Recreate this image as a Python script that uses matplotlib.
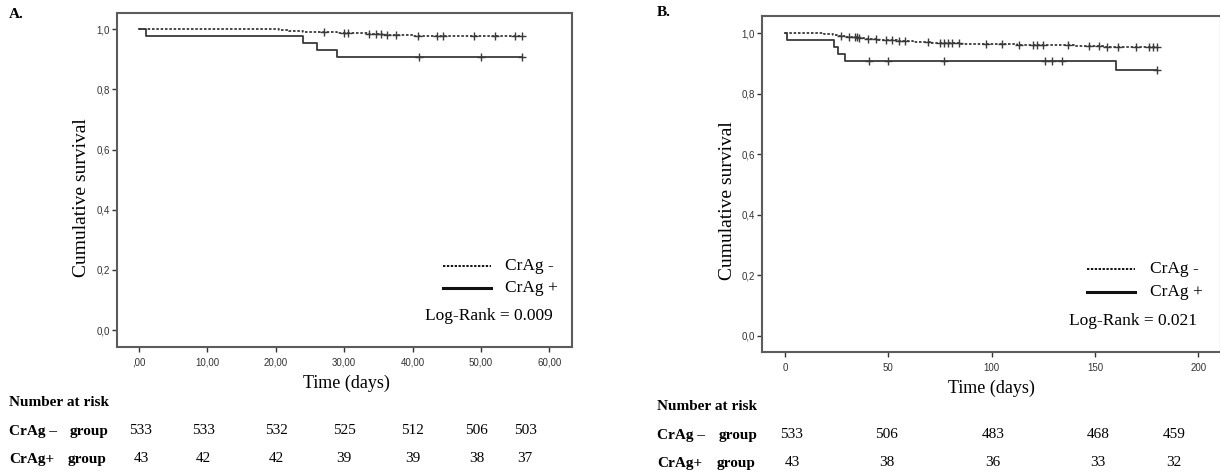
import numpy as np
import matplotlib
matplotlib.use("Agg")
import matplotlib.pyplot as plt

# ---------------- data ----------------
# Panel A (56 days)
a_neg_event_t = [20.5, 22, 24, 26.5, 29, 31, 33.5, 35.5, 37, 40]
a_neg_event_s = [0.998, 0.994, 0.992, 0.990, 0.988, 0.986, 0.984, 0.982, 0.980, 0.978]
a_neg_end = 56
a_neg_censor = [27, 30, 30.5, 33.7, 34.6, 35.4, 36.2, 37.6, 40.8, 43.5, 44.5, 49, 52, 55, 56]

a_pos_event_t = [1, 24, 26, 29]
a_pos_event_s = [0.977, 0.953, 0.930, 0.907]
a_pos_end = 56
a_pos_censor = [41, 50, 56]

a_xticks = [0, 10, 20, 30, 40, 50, 60]
a_xticklabels = [",00", "10,00", "20,00", "30,00", "40,00", "50,00", "60,00"]
a_risk_t = [0, 10, 20, 30, 40, 50, 56]
a_risk_neg = [533, 533, 532, 525, 512, 506, 503]
a_risk_pos = [43, 42, 42, 39, 39, 38, 37]
a_logrank = "Log-Rank = 0.009"

# Panel B (180 days)
b_neg_event_t = [19, 21, 23, 25, 27, 30, 33, 36, 39, 45, 55, 62, 70, 85, 100, 112, 125, 140, 155, 168]
b_neg_event_s = [0.998, 0.996, 0.994, 0.992, 0.990, 0.988, 0.986, 0.983, 0.980, 0.978, 0.976, 0.972,
                 0.968, 0.966, 0.964, 0.962, 0.960, 0.958, 0.956, 0.954]
b_neg_end = 180
b_neg_censor = [27, 31, 34, 35, 36, 40, 44, 49, 52, 55, 58, 69, 75, 77, 79, 81, 84, 97, 105, 113,
                120, 122, 125, 137, 147, 152, 156, 161, 170, 176, 178, 180]

b_pos_event_t = [1, 23.7, 25.6, 29, 160]
b_pos_event_s = [0.977, 0.953, 0.930, 0.907, 0.880]
b_pos_end = 180
b_pos_censor = [40.6, 49.8, 77, 126, 129, 134, 180]

b_xticks = [0, 50, 100, 150, 200]
b_xticklabels = ["0", "50", "100", "150", "200"]
b_risk_t = [0, 50, 100, 150, 180]
b_risk_neg = [533, 506, 483, 468, 459]
b_risk_pos = [43, 38, 36, 33, 32]
b_logrank = "Log-Rank = 0.021"

yticks = [0.0, 0.2, 0.4, 0.6, 0.8, 1.0]
yticklabels = ["0,0", "0,2", "0,4", "0,6", "0,8", "1,0"]

# ---------------- layout ----------------
W, H = 1220, 475
SERIF = ["Liberation Serif", "DejaVu Serif"]
SANS = ["Liberation Sans", "DejaVu Sans"]
CURVE = "#3a3a3a"
SPINE = "#5c5c5c"

fig = plt.figure(figsize=(W / 100, H / 100), dpi=100)


def fx(x):
    return x / W


def fy(y):
    return 1 - y / H


def add_axes_px(l, t, r, b):
    return fig.add_axes([fx(l), fy(b), (r - l) / W, (b - t) / H])


def km_curve(ax, ev_t, ev_s, end, censor, ls):
    t = [0] + list(ev_t) + [end]
    s = [1.0] + list(ev_s) + [ev_s[-1]]
    ax.step(t, s, where="post", color=CURVE, lw=1.3, linestyle=ls, zorder=3)
    ev = np.array(ev_t)
    sv = np.array([1.0] + list(ev_s))
    c = np.array(censor)
    idx = np.searchsorted(ev, c, side="right")
    ax.plot(c, sv[idx], linestyle="none", marker="+", ms=5.5, mew=1.0, color=CURVE, zorder=4)


def panel(box, xlim, ylim, xticks, xticklabels, curves, risk_t, risk_neg, risk_pos,
          logrank, letter_xy, ylab_xy, xlab_xy, legend, risk_rows, label_x, group_x, col_nudge):
    ax = add_axes_px(*box)
    for ev_t, ev_s, end, cen, ls in curves:
        km_curve(ax, ev_t, ev_s, end, cen, ls)
    ax.set_xlim(*xlim)
    ax.set_ylim(*ylim)
    ax.set_xticks(xticks)
    ax.set_xticklabels(xticklabels)
    ax.set_yticks(yticks)
    ax.set_yticklabels(yticklabels)
    for lab in ax.get_xticklabels() + ax.get_yticklabels():
        lab.set_fontfamily(SANS)
    ax.tick_params(axis="both", labelsize=7, colors="#333333", length=3.6, width=1.0,
                   direction="out", pad=1.5)
    ax.tick_params(axis="x", pad=4)
    for sp in ax.spines.values():
        sp.set_color(SPINE)
        sp.set_linewidth(1.5)

    # panel letter
    fig.text(fx(letter_xy[0]), fy(letter_xy[1]), letter_xy[2], fontsize=11, fontweight="bold",
             family=SERIF, ha="left", va="center")
    # axis labels
    fig.text(fx(ylab_xy[0]), fy(ylab_xy[1]), "Cumulative survival", rotation=90, fontsize=14,
             family=SERIF, ha="center", va="center")
    fig.text(fx(xlab_xy[0]), fy(xlab_xy[1]), "Time (days)", fontsize=13, family=SERIF,
             ha="center", va="center")

    # legend
    lx0, lx1, ty, y1, y2, y3, lr_right = legend
    fig.add_artist(plt.Line2D([fx(lx0), fx(lx1)], [fy(y1), fy(y1)], color="#111111", lw=1.4,
                              linestyle=(0, (1.2, 0.8))))
    fig.add_artist(plt.Line2D([fx(lx0), fx(lx1)], [fy(y2), fy(y2)], color="#111111", lw=2.2))
    fig.text(fx(ty), fy(y1), "CrAg -", fontsize=12.5, family=SERIF, ha="left", va="center")
    fig.text(fx(ty), fy(y2), "CrAg +", fontsize=12.5, family=SERIF, ha="left", va="center")
    fig.text(fx(lr_right), fy(y3), logrank, fontsize=12.5, family=SERIF, ha="right", va="center")

    # number at risk table
    y_head, y_r1, y_r2 = risk_rows
    fig.text(fx(label_x), fy(y_head), "Number at risk", fontsize=11, fontweight="bold",
             family=SERIF, ha="left", va="center")
    fig.text(fx(label_x), fy(y_r1), "CrAg \u2013", fontsize=11, fontweight="bold",
             family=SERIF, ha="left", va="center")
    fig.text(fx(group_x), fy(y_r1), "group", fontsize=11, fontweight="bold",
             family=SERIF, ha="left", va="center")
    fig.text(fx(label_x), fy(y_r2), "CrAg+", fontsize=11, fontweight="bold",
             family=SERIF, ha="left", va="center")
    fig.text(fx(group_x - 2), fy(y_r2), "group", fontsize=11, fontweight="bold",
             family=SERIF, ha="left", va="center")
    for t, n1, n2, dx in zip(risk_t, risk_neg, risk_pos, col_nudge):
        xd = ax.transData.transform((t, 0))[0] + dx
        xf = fig.transFigure.inverted().transform((xd, 0))[0]
        fig.text(xf, fy(y_r1), str(n1), fontsize=11, family=SERIF, ha="center", va="center")
        fig.text(xf, fy(y_r2), str(n2), fontsize=11, family=SERIF, ha="center", va="center")
    return ax


panel(box=(117, 12.7, 572, 347), xlim=(-3.2, 63.3), ylim=(-0.0565, 1.055),
      xticks=a_xticks, xticklabels=a_xticklabels,
      curves=[(a_neg_event_t, a_neg_event_s, a_neg_end, a_neg_censor, (0, (1.4, 1.0))),
              (a_pos_event_t, a_pos_event_s, a_pos_end, a_pos_censor, "-")],
      risk_t=a_risk_t, risk_neg=a_risk_neg, risk_pos=a_risk_pos, logrank=a_logrank,
      letter_xy=(9, 15, "A."), ylab_xy=(82, 198), xlab_xy=(346, 383),
      legend=(443, 491, 505, 266, 288, 316, 553),
      risk_rows=(402, 431, 459), label_x=9, group_x=70, col_nudge=[2, -4, 1, 0, 0, -4, 3])

panel(box=(762, 16, 1221, 352), xlim=(-11.1, 210.9), ylim=(-0.053, 1.057),
      xticks=b_xticks, xticklabels=b_xticklabels,
      curves=[(b_neg_event_t, b_neg_event_s, b_neg_end, b_neg_censor, (0, (1.4, 1.0))),
              (b_pos_event_t, b_pos_event_s, b_pos_end, b_pos_censor, "-")],
      risk_t=b_risk_t, risk_neg=b_risk_neg, risk_pos=b_risk_pos, logrank=b_logrank,
      letter_xy=(657, 13, "B."), ylab_xy=(727, 201), xlab_xy=(991, 388),
      legend=(1087, 1135, 1150, 269, 292, 321, 1197),
      risk_rows=(407, 435, 463), label_x=657, group_x=719, col_nudge=[7, -2, 1, 3, 17])

fig.savefig("out.png", dpi=100)
